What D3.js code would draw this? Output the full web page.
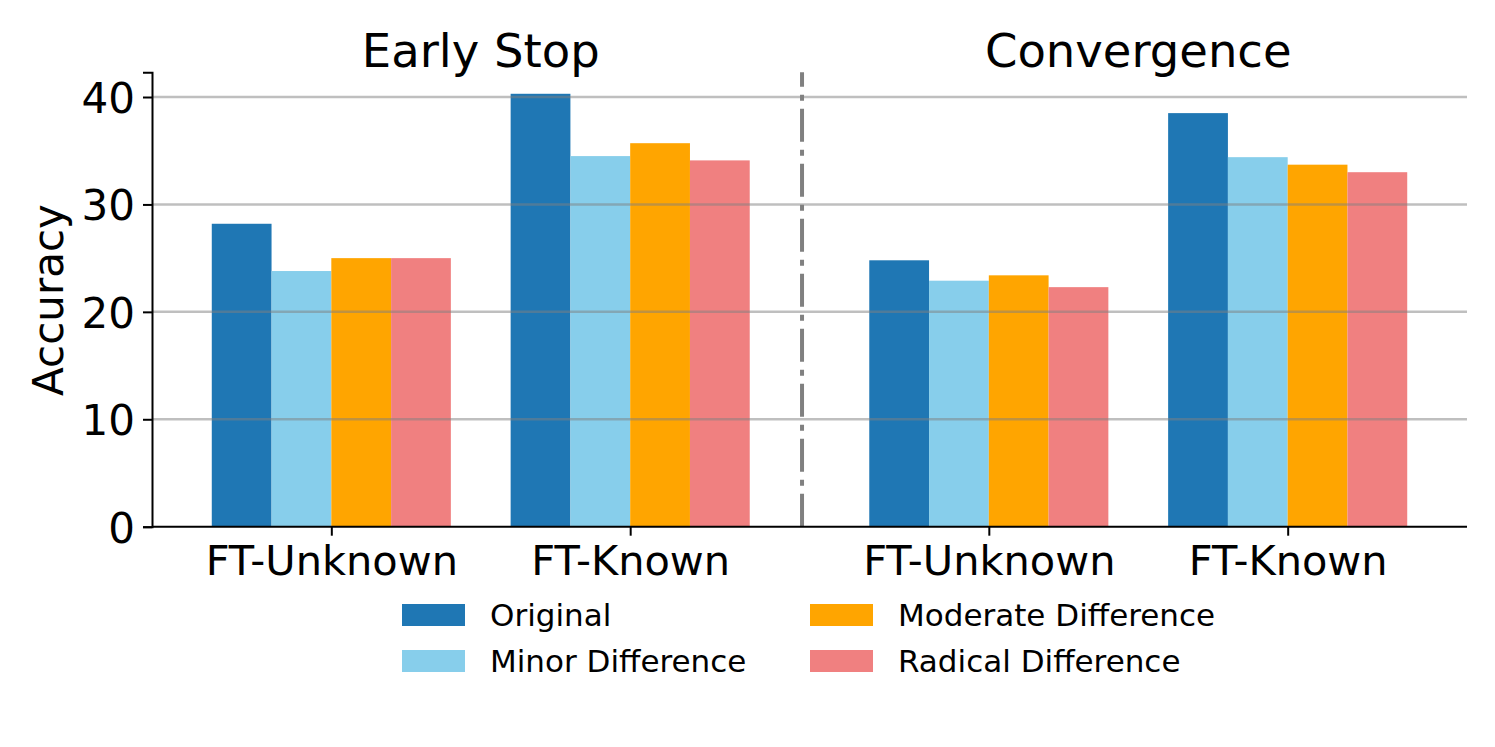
<!DOCTYPE html>
<html>
<head>
<meta charset="utf-8">
<script src="https://cdn.jsdelivr.net/npm/d3@7"></script>
<style>
  html, body { margin: 0; padding: 0; background: #ffffff; }
  svg { display: block; font-family: "DejaVu Sans", sans-serif; }
</style>
</head>
<body>
<svg id="chart" width="1495" height="747"></svg>
<script>
// ---- data ----
const panelTitles = ["Early Stop", "Convergence"];
const panelCenters = [0.5, 2.7];
const categories = ["FT-Unknown", "FT-Known", "FT-Unknown", "FT-Known"];
const categoryPos = [0, 1, 2.2, 3.2];
const seriesNames = ["Original", "Minor Difference", "Moderate Difference", "Radical Difference"];
const original = [28.2, 40.3, 24.8, 38.5];
const minor    = [23.8, 34.5, 22.9, 34.4];
const moderate = [25.0, 35.7, 23.4, 33.7];
const radical  = [25.0, 34.1, 22.3, 33.0];
const seriesValues = [original, minor, moderate, radical];
const seriesColors = ["#1f77b4", "#87ceeb", "#ffa500", "#f08080"];
const yTicks = [0, 10, 20, 30, 40];
const dividerPos = 1.575;
const barWidth = 0.2;

// ---- layout ----
const svg = d3.select("#chart");
const mLeft = 152, mRight = 1467, mTop = 72.3, mBottom = 526.7;
const x = d3.scaleLinear().domain([-0.6, 3.8]).range([mLeft, mRight]);
const y = d3.scaleLinear().domain([0, 42.3]).range([mBottom, mTop]);

// bars
seriesValues.forEach((vals, si) => {
  svg.append("g").selectAll("rect")
    .data(vals.map((v, i) => ({ v, pos: categoryPos[i] })))
    .join("rect")
    .attr("x", d => x(d.pos - 0.4 + si * barWidth))
    .attr("width", d => x(d.pos - 0.4 + (si + 1) * barWidth) - x(d.pos - 0.4 + si * barWidth))
    .attr("y", d => y(d.v))
    .attr("height", d => y(0) - y(d.v))
    .attr("fill", seriesColors[si]);
});

// grid (drawn over bars, semi-transparent)
svg.append("g").selectAll("line")
  .data(yTicks.filter(t => t > 0))
  .join("line")
  .attr("x1", mLeft).attr("x2", mRight)
  .attr("y1", d => y(d)).attr("y2", d => y(d))
  .attr("stroke", "#808080").attr("stroke-opacity", 0.5)
  .attr("stroke-width", 2.5);

// divider dash-dot
svg.append("line")
  .attr("x1", x(dividerPos)).attr("x2", x(dividerPos))
  .attr("y1", y(0)).attr("y2", y(42.3))
  .attr("stroke", "#808080").attr("stroke-width", 4)
  .attr("stroke-dasharray", "33,8,6,8");

// y axis
const yAxis = d3.axisLeft(y).tickValues(yTicks).tickSize(9).tickPadding(8).tickFormat(d3.format("d"));
const gy = svg.append("g").attr("transform", `translate(${mLeft},0)`).call(yAxis);
gy.select(".domain").attr("stroke", "#000").attr("stroke-width", 2);
gy.selectAll(".tick line").attr("stroke", "#000").attr("stroke-width", 2);
gy.selectAll(".tick text").attr("font-size", 42).attr("fill", "#000")
  .attr("font-family", "DejaVu Sans").attr("dy", "0.37em");

// x axis
const xAxis = d3.axisBottom(x).tickValues(categoryPos)
  .tickFormat((d, i) => categories[i]).tickSize(9).tickPadding(10);
const gx = svg.append("g").attr("transform", `translate(0,${mBottom})`).call(xAxis);
gx.select(".domain").attr("stroke", "#000").attr("stroke-width", 2).attr("d", `M${mLeft},0H${mRight}`);
gx.selectAll(".tick line").attr("stroke", "#000").attr("stroke-width", 2);
gx.selectAll(".tick text").attr("font-size", 41.5).attr("fill", "#000")
  .attr("font-family", "DejaVu Sans").attr("dy", "0.71em");

// y label
svg.append("text")
  .attr("transform", `translate(63,300) rotate(-90)`)
  .attr("text-anchor", "middle")
  .attr("font-size", 42)
  .text("Accuracy");

// panel titles
svg.append("g").selectAll("text")
  .data(panelTitles)
  .join("text")
  .attr("x", (d, i) => x(panelCenters[i]))
  .attr("y", 67)
  .attr("text-anchor", "middle")
  .attr("font-size", 46.5)
  .text(d => d);

// legend: Original, Minor (col 0); Moderate, Radical (col 1)
const legendCols = [402, 810];
const legendRows = [604, 650];
const lg = svg.append("g");
seriesNames.forEach((name, i) => {
  const col = i < 2 ? 0 : 1;
  const row = i % 2;
  lg.append("rect")
    .attr("x", legendCols[col]).attr("y", legendRows[row])
    .attr("width", 63).attr("height", 22)
    .attr("fill", seriesColors[i]);
  lg.append("text")
    .attr("x", legendCols[col] + 88).attr("y", legendRows[row] + 11)
    .attr("dy", "0.36em")
    .attr("font-size", 31)
    .text(name);
});
</script>
</body>
</html>
